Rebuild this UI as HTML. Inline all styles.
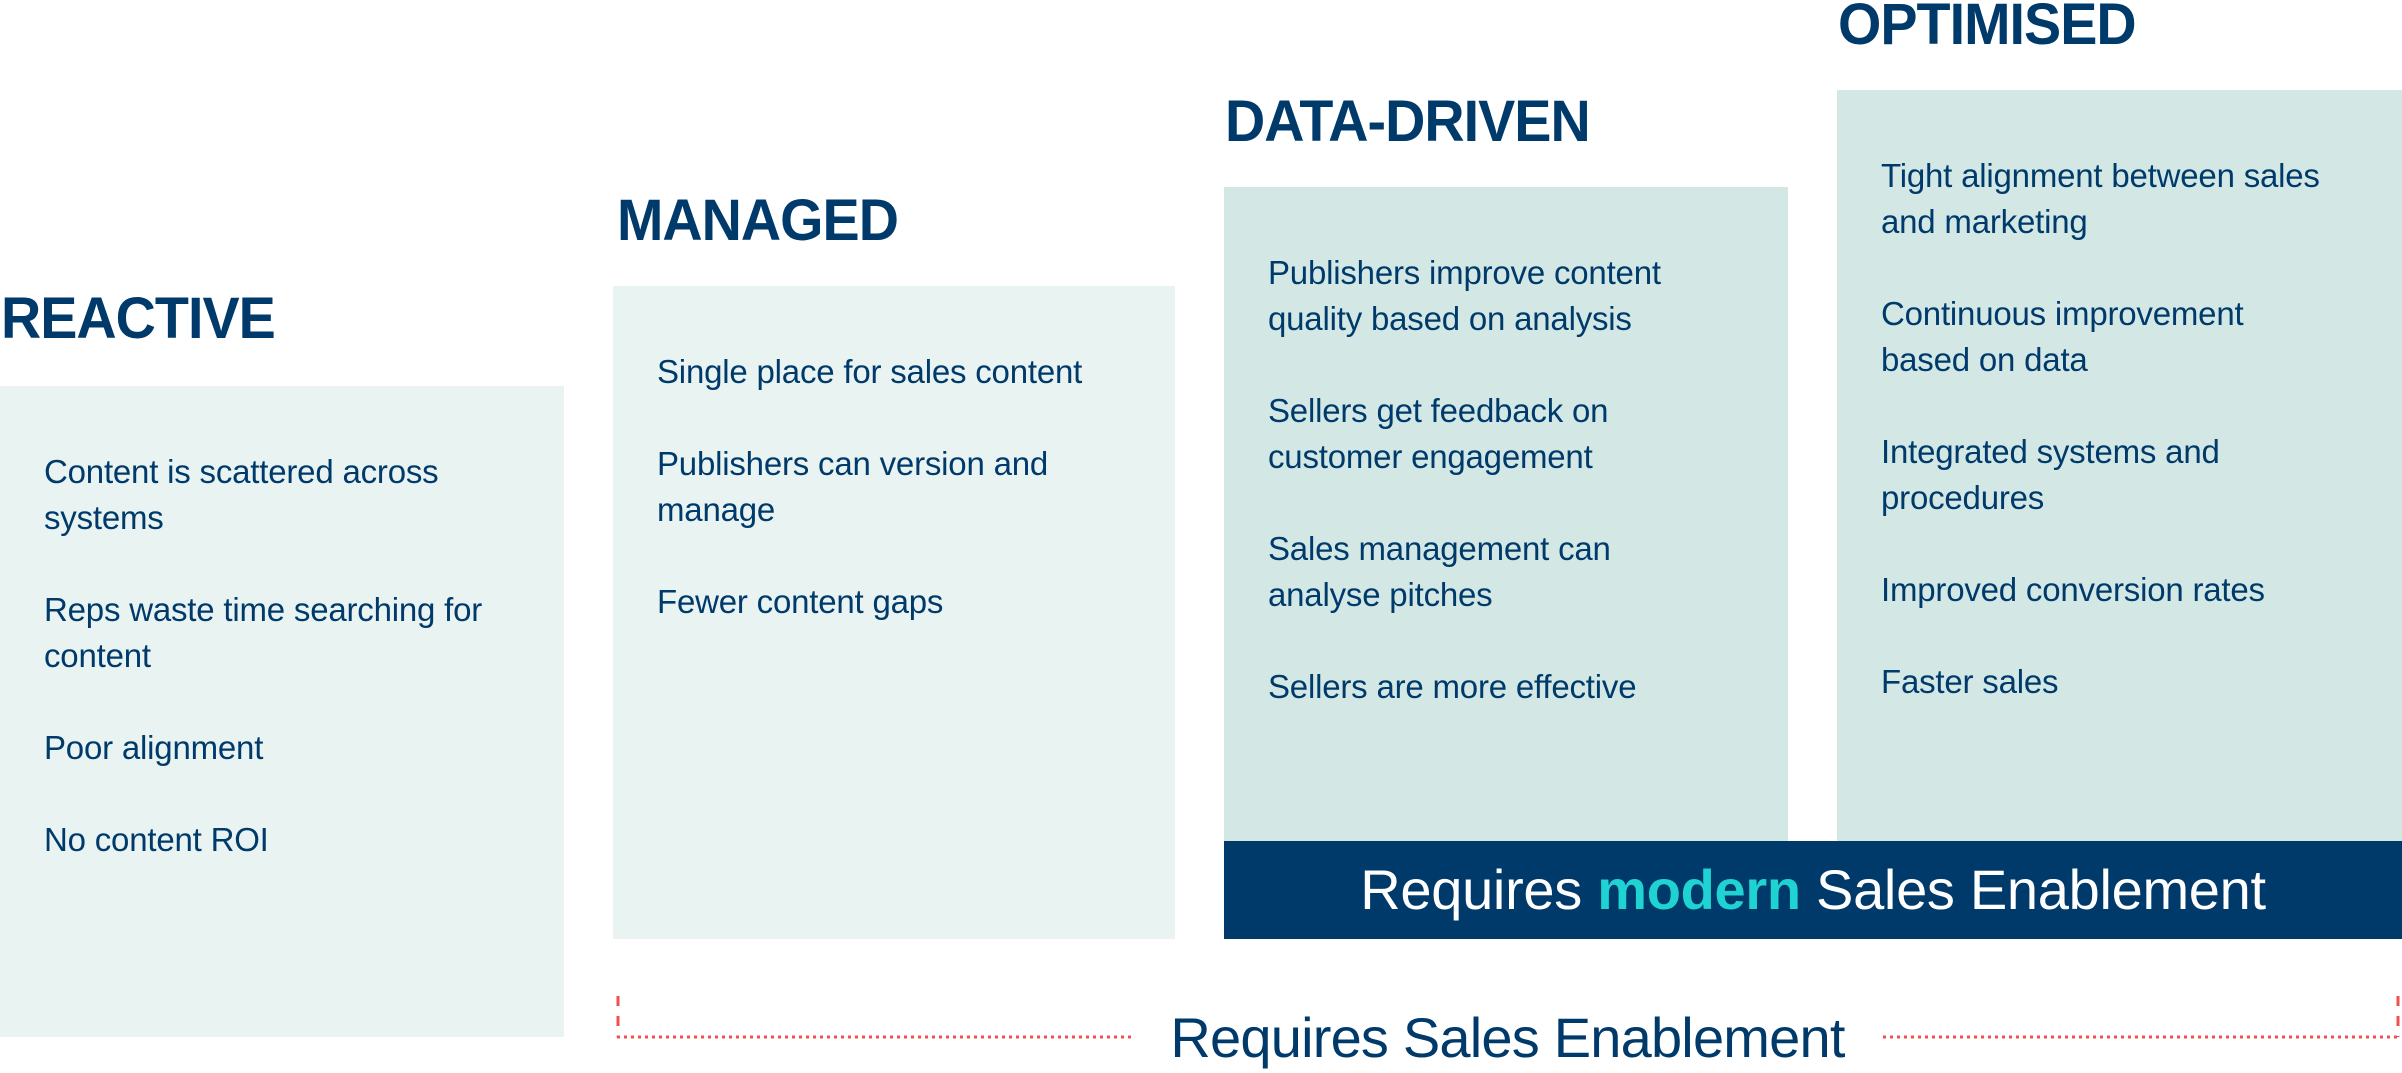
<!DOCTYPE html>
<html><head><meta charset="utf-8"><style>
*{margin:0;padding:0;box-sizing:border-box}
body{width:2402px;height:1068px;position:relative;background:#fff;overflow:hidden;font-family:"Liberation Sans",sans-serif;color:#003a6b}
.t{position:absolute;font-weight:bold;font-size:58px;line-height:1;letter-spacing:-1px;transform:scaleX(0.96);transform-origin:left}
.b{position:absolute;padding:63px 0 0 44px}
.b p{font-size:33px;line-height:46px;margin-bottom:46px;letter-spacing:-0.2px;width:560px;white-space:nowrap}
.l{background:#e9f3f1}.d{background:#d3e8e5}
</style></head><body>
<div class="t" style="left:1px;top:290px">REACTIVE</div>
<div class="t" style="left:617px;top:192px">MANAGED</div>
<div class="t" style="left:1225px;top:93px">DATA-DRIVEN</div>
<div class="t" style="left:1838px;top:-4px">OPTIMISED</div>

<div class="b l" style="left:0;top:386px;width:564px;height:651px">
<p>Content is scattered across<br>systems</p><p>Reps waste time searching for<br>content</p><p>Poor alignment</p><p>No content ROI</p></div>
<div class="b l" style="left:613px;top:286px;width:562px;height:653px">
<p>Single place for sales content</p><p>Publishers can version and<br>manage</p><p>Fewer content gaps</p></div>
<div class="b d" style="left:1224px;top:187px;width:564px;height:654px">
<p>Publishers improve content<br>quality based on analysis</p><p>Sellers get feedback on<br>customer engagement</p><p>Sales management can<br>analyse pitches</p><p>Sellers are more effective</p></div>
<div class="b d" style="left:1837px;top:90px;width:565px;height:751px">
<p>Tight alignment between sales<br>and marketing</p><p>Continuous improvement<br>based on data</p><p>Integrated systems and<br>procedures</p><p>Improved conversion rates</p><p>Faster sales</p></div>

<div style="position:absolute;left:1224px;top:841px;width:1178px;height:98px;background:#003a6b;color:#fff;font-size:56px;line-height:98px;text-align:center;letter-spacing:-0.3px">Requires <b style="color:#1fd3d3">modern</b> Sales Enablement</div>

<svg style="position:absolute;left:0;top:0" width="2402" height="1068">
<g stroke="#f0504f" stroke-width="3" fill="none" stroke-dasharray="3 4">
<line x1="617" y1="1037" x2="1135" y2="1037"/><line x1="1883" y1="1037" x2="2398" y2="1037"/>
</g>
<g stroke="#f0504f" stroke-width="3" fill="none" stroke-dasharray="10 10">
<line x1="618" y1="996" x2="618" y2="1037"/><line x1="2398" y1="996" x2="2398" y2="1037"/>
</g>
</svg>
<div style="position:absolute;left:1150px;width:715px;top:1003px;text-align:center;font-size:56px;line-height:70px;color:#003a6b;letter-spacing:-0.8px">Requires Sales Enablement</div>
</body></html>
